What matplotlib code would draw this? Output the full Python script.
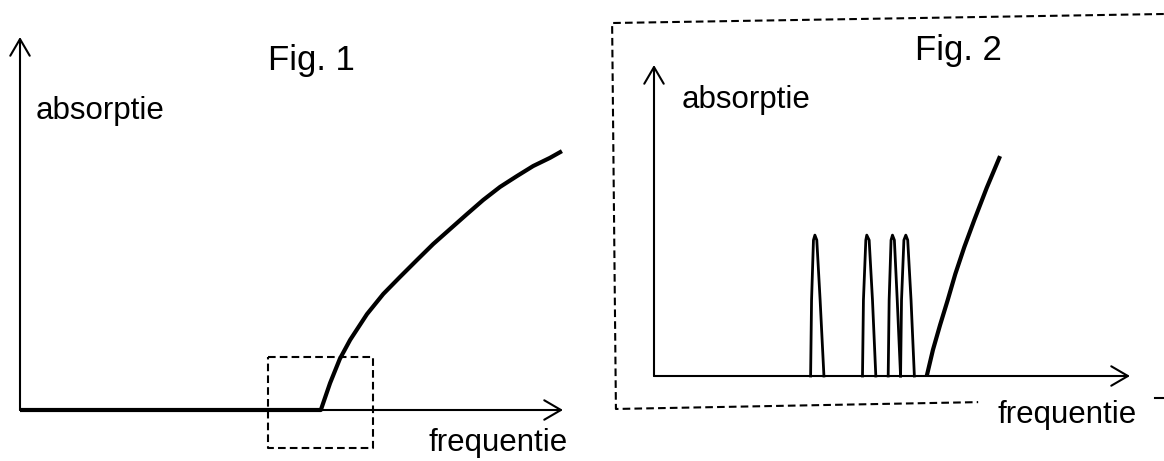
import matplotlib.pyplot as plt

plt.rcParams['font.family'] = ['Liberation Sans', 'DejaVu Sans']
plt.rcParams['lines.scale_dashes'] = False

# Fig. 1: absorption edge (frequency and absorption in arbitrary units, axis = 0..100)
freq1 = [0, 55.4, 57.1, 58.9, 60.8, 63.9, 66.9, 70.0, 73.1, 76.1, 79.2,
         82.3, 85.3, 88.4, 91.5, 94.5, 97.6, 99.8]
abs1 = [0, 0, 7.2, 13.7, 18.8, 25.7, 31.1, 35.7, 40.2, 44.5, 48.5,
        52.5, 56.3, 59.8, 62.7, 65.4, 67.6, 69.4]
# zoom window drawn in Fig. 1
box1_x = [45.7, 65.0, 65.0, 45.7, 45.7]
box1_y = [14.2, 14.2, -10.2, -10.2, 14.2]

# Fig. 2: the zoomed part, line peaks plus the start of the edge
peaks_x = [
    [32.9, 33.1, 33.5, 33.8, 34.2, 34.9, 35.7],
    [43.8, 44.0, 44.5, 44.7, 45.2, 45.9, 46.6],
    [49.2, 49.4, 49.8, 50.1, 50.5, 51.1, 51.8],
    [51.8, 52.0, 52.5, 52.9, 53.3, 54.0, 54.7],
]
peaks_y = [0, 24.4, 43.7, 45.3, 43.7, 24.4, 0]
freq2 = [57.3, 58.6, 60.1, 61.7, 63.3, 65.2, 67.3, 69.9, 72.7]
abs2 = [0, 8.4, 16.4, 24.4, 32.8, 41.5, 50.2, 60.5, 70.7]
frame_x = [107.1, -8.8, -8.0, 68.1]
frame_y = [116.4, 113.5, -10.6, -8.4]
tick_x = [105.3, 107.1]
tick_y = [-7.1, -7.1]

arrow = dict(arrowstyle='->,head_length=0.6,head_width=0.35', lw=1.5,
             color='black', shrinkA=0, shrinkB=0, mutation_scale=20)
dash = (0, (5.5, 3))

fig = plt.figure(figsize=(11.64, 4.61), dpi=100)

ax1 = fig.add_axes([20 / 1164, 51 / 461, 543 / 1164, 373 / 461])
ax2 = fig.add_axes([654 / 1164, 85 / 461, 476 / 1164, 311 / 461])

for ax in (ax1, ax2):
    ax.set_xlim(0, 100)
    ax.set_ylim(0, 100)
    ax.axis('off')
    ax.annotate('', xy=(100, 0), xytext=(0, 0), arrowprops=arrow)
    ax.annotate('', xy=(0, 100), xytext=(0, 0), arrowprops=arrow)

# fig 1
ax1.plot(freq1, abs1, color='black', lw=3, solid_capstyle='butt',
         solid_joinstyle='round', clip_on=False)
ax1.plot(box1_x, box1_y, color='black', lw=1.5, ls=dash, clip_on=False)
ax1.text(45.7, 91.2, 'Fig. 1', fontsize=25, ha='left', va='baseline')
ax1.text(2.9, 78.0, 'absorptie', fontsize=22.5, ha='left', va='baseline')
ax1.text(75.3, -11.0, 'frequentie', fontsize=22.5, ha='left', va='baseline')

# fig 2
for px in peaks_x:
    ax2.plot(px, peaks_y, color='black', lw=2, solid_joinstyle='round', clip_on=False)
ax2.plot(freq2, abs2, color='black', lw=3, solid_capstyle='butt',
         solid_joinstyle='round', clip_on=False)
ax2.plot(frame_x, frame_y, color='black', lw=1.5, ls=dash, clip_on=False)
ax2.plot(tick_x, tick_y, color='black', lw=1.5, clip_on=False)
ax2.text(54.8, 101.6, 'Fig. 2', fontsize=25, ha='left', va='baseline')
ax2.text(5.9, 86.2, 'absorptie', fontsize=22.5, ha='left', va='baseline')
ax2.text(72.1, -15.1, 'frequentie', fontsize=22.5, ha='left', va='baseline')

fig.savefig('out.png', dpi=100)
